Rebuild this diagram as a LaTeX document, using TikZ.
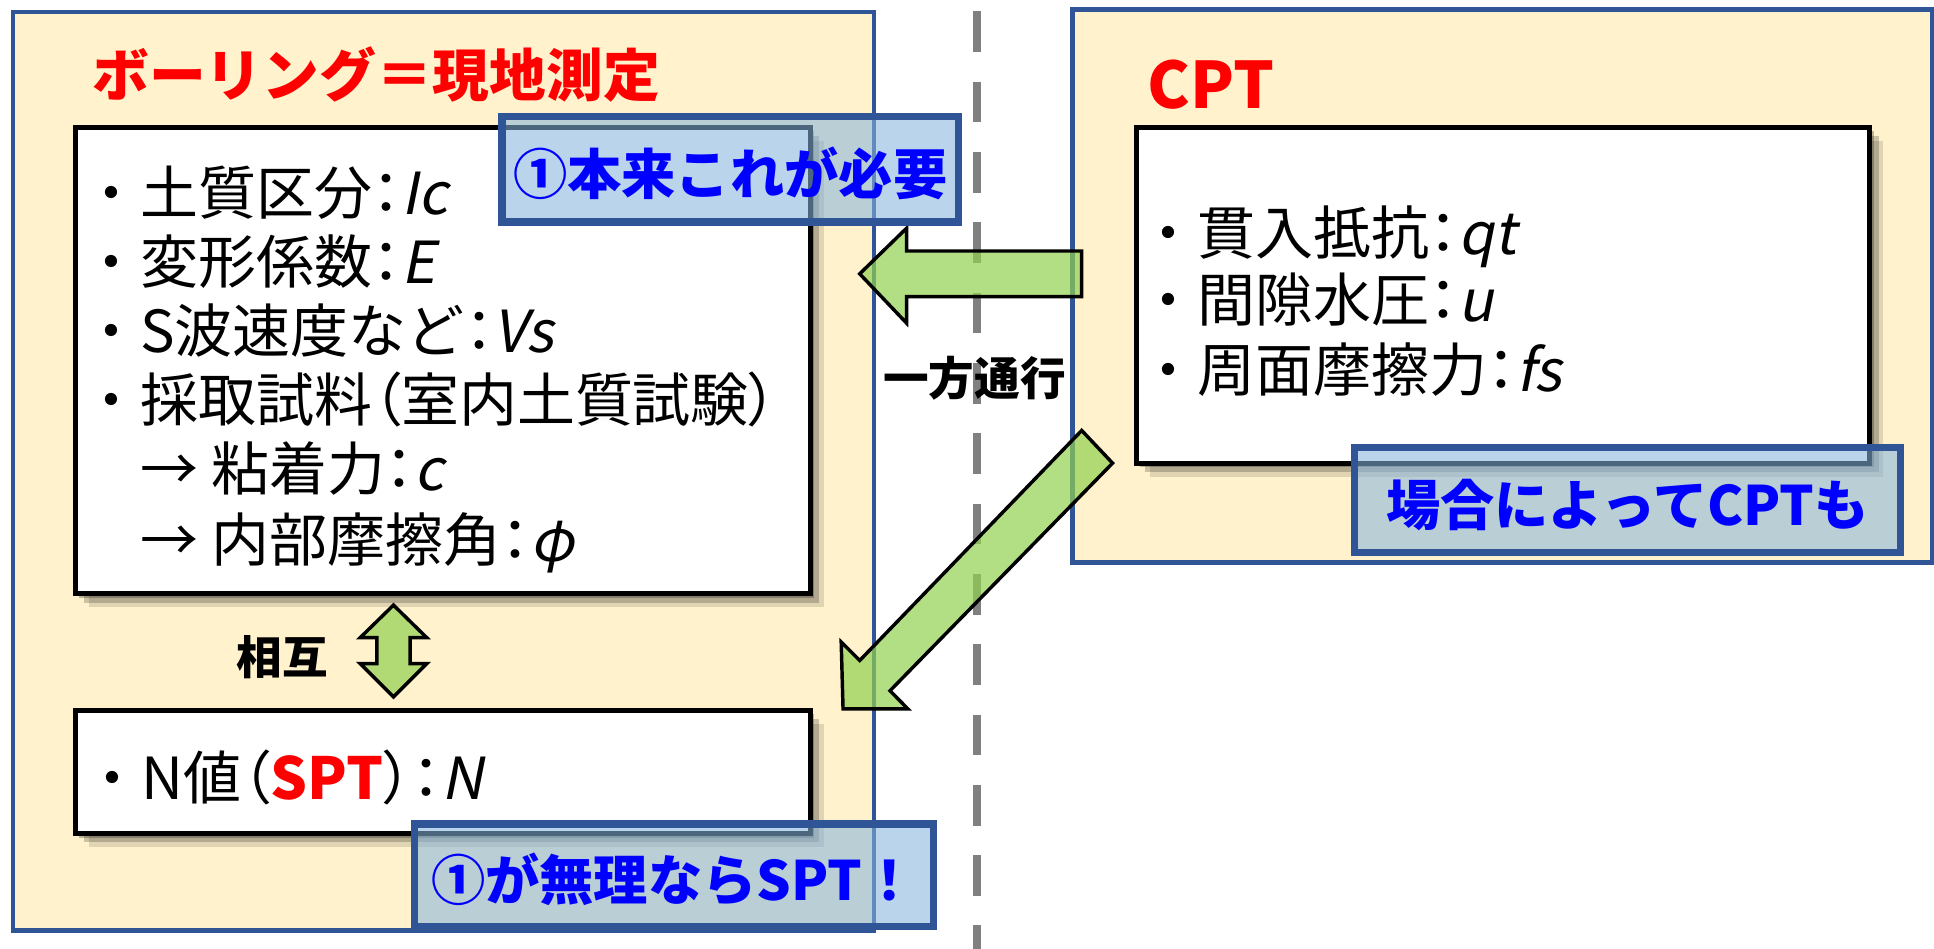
\documentclass[tikz,border=0pt]{standalone}
\usepackage{fontspec}
\setmainfont{Noto Sans CJK JP}
\newfontfamily\pf{Noto Sans CJK JP}[RawFeature=+palt]
\newfontfamily\vf{Noto Sans CJK JP}[FakeSlant=0.2]
\usetikzlibrary{shadows}
\definecolor{cream}{RGB}{255,242,204}
\definecolor{bord}{RGB}{47,85,151}
\definecolor{grn}{RGB}{146,208,80}
\definecolor{cfill}{RGB}{135,180,222}
\definecolor{dgray}{RGB}{128,128,128}
\newcommand\cl{{\pf ：}}
\newcommand\vv[1]{{\vf #1}}
\newcommand\lp{{\pf （}}
\newcommand\rp{{\pf ）}}
\tikzset{
  outerbox/.style={fill=cream, draw=bord, line width=3.5pt},
  wbox/.style={draw=black, line width=4pt, fill=white, inner sep=0pt,
    drop shadow={shadow xshift=3pt, shadow yshift=-3pt, opacity=.25, fill=black},
    drop shadow={shadow xshift=7pt, shadow yshift=-7pt, opacity=.2, fill=black},
    drop shadow={shadow xshift=11pt, shadow yshift=-11pt, opacity=.12, fill=black}},
  body/.style={anchor=base west, inner sep=0pt, font=\fontsize{47}{56}\selectfont},
  callout/.style={draw=bord, line width=6pt, fill=cfill, fill opacity=0.57,
    text opacity=1, text=blue, inner sep=0pt,
    font=\fontsize{44}{44}\selectfont\bfseries, text height=41pt, text depth=0pt},
  garrow/.style={fill=grn, fill opacity=0.7, draw=black, line width=2.8pt, line join=miter},
  lbl/.style={inner sep=0pt, font=\fontsize{37}{37}\selectfont\bfseries},
  ttl/.style={inner sep=0pt, text=red, font=\bfseries}
}
\begin{document}
\begin{tikzpicture}[x=1pt, y={(0pt,-1pt)}]
\useasboundingbox (0,0) rectangle (1568,769);
\fill[white] (0,0) rectangle (1568,769);
% outer boxes
\draw[outerbox] (10.5,9.5) rectangle (708.5,754.5);
\draw[outerbox] (869.5,7.8) rectangle (1566.5,456);
% dashed divider
\coordinate (dtop) at (792,9.3);
\coordinate (dbot) at (792,769);
\draw[dgray, line width=7pt, dash pattern=on 33pt off 24pt] (dtop) -- (dbot);
% titles
\node[ttl, font=\fontsize{46}{46}\selectfont\bfseries] (t1) at (305,60.5) {ボーリング＝現地測定};
\node[ttl, font=\fontsize{52}{52}\selectfont\bfseries] (t2) at (982,69) {CPT};
% white boxes
\node[wbox, minimum width=596pt, minimum height=378.5pt] (b1) at (359,292.25) {};
\node[wbox, minimum width=596pt, minimum height=100pt] (b2) at (359,626) {};
\node[wbox, minimum width=594.5pt, minimum height=272.5pt] (b3) at (1218.75,239.25) {};
% left box text
\node[body] (l1) at (66.5,174) {・土質区分\cl\vv{Ic}};
\node[body] (l2) at (66.5,230) {・変形係数\cl\vv{E}};
\node[body] (l3) at (66.5,286) {・S波速度など\cl\vv{Vs}};
\node[body] (l4) at (66.5,342) {・採取試料\lp 室内土質試験\rp};
\node[body] (l5) at (66.5,398) {\phantom{・}→ 粘着力\cl\vv{c}};
\node[body] (l6) at (66.5,455) {\phantom{・}→ 内部摩擦角\cl\vv{φ}};
\node[body] (n1) at (67.5,648) {・N値\lp{\color{red}\bfseries SPT}\rp\cl\vv{N}};
% right box text
\node[body] (r1) at (923.5,206) {・貫入抵抗\cl\vv{qt}};
\node[body] (r2) at (923.5,261) {・間隙水圧\cl\vv{u}};
\node[body] (r3) at (923.5,317) {・周面摩擦力\cl\vv{fs}};
% labels
\node[lbl] (ippo) at (790,307) {一方通行};
\node[lbl] (sogo) at (229,533) {相互};
% horizontal block arrow
\coordinate (ha1) at (697,222);
\coordinate (ha2) at (735,185);
\coordinate (ha3) at (735,203.5);
\coordinate (ha4) at (877,203.5);
\coordinate (ha5) at (877,240.5);
\coordinate (ha6) at (735,240.5);
\coordinate (ha7) at (735,262);
\draw[garrow] (ha1) -- (ha2) -- (ha3) -- (ha4) -- (ha5) -- (ha6) -- (ha7) -- cycle;
% diagonal block arrow
\coordinate (da1) at (683.5,574.7);
\coordinate (da2) at (682,520.5);
\coordinate (da3) at (697,535.5);
\coordinate (da4) at (877,349);
\coordinate (da5) at (902,375.5);
\coordinate (da6) at (721.6,560);
\coordinate (da7) at (736,574.7);
\draw[garrow] (da1) -- (da2) -- (da3) -- (da4) -- (da5) -- (da6) -- (da7) -- cycle;
% double arrow
\coordinate (va1) at (319,490.6);
\coordinate (va2) at (346,517);
\coordinate (va3) at (332.5,517);
\coordinate (va4) at (332.5,538);
\coordinate (va5) at (346,538);
\coordinate (va6) at (319,565);
\coordinate (va7) at (292,538);
\coordinate (va8) at (305.5,538);
\coordinate (va9) at (305.5,517);
\coordinate (va10) at (292,517);
\draw[garrow] (va1) -- (va2) -- (va3) -- (va4) -- (va5) -- (va6) -- (va7) -- (va8) -- (va9) -- (va10) -- cycle;
% callouts
\node[callout, minimum width=370pt, minimum height=85.4pt] (cA) at (592,137.3) {①本来これが必要};
\node[callout, minimum width=421pt, minimum height=83pt] (cB) at (546.5,709.5) {①が無理ならSPT！};
\node[callout, minimum width=443pt, minimum height=85pt] (cC) at (1319.5,405.5) {場合によってCPTも};
\end{tikzpicture}
\end{document}
